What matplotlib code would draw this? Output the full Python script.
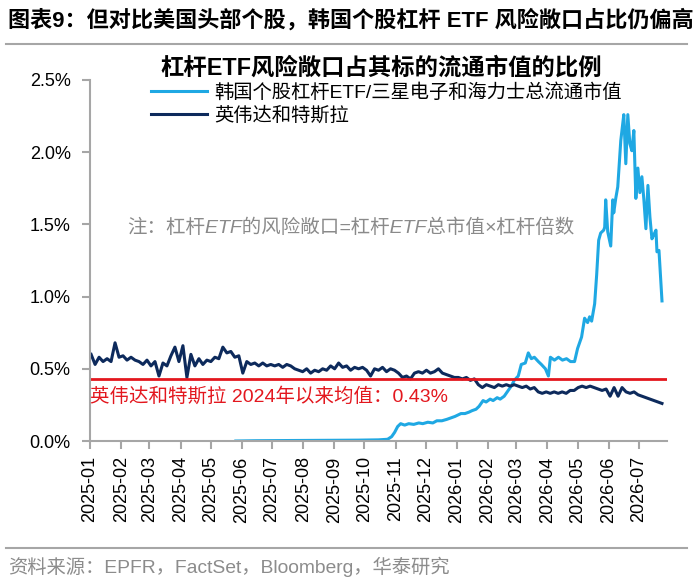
import matplotlib
matplotlib.use('Agg')
import matplotlib.pyplot as plt
import matplotlib.dates as mdates
import pandas as pd

plt.rcParams['font.family'] = ['Liberation Sans', 'Noto Sans CJK SC', 'DejaVu Sans']
plt.rcParams['axes.unicode_minus'] = False

# 英伟达和特斯拉 (每4天读一个点, 单位: %)
nvda_tsla_values = [
    0.60, 0.53, 0.58, 0.55, 0.57, 0.55, 0.68, 0.58, 0.59, 0.56,
    0.58, 0.56, 0.55, 0.53, 0.56, 0.52, 0.55, 0.45, 0.54, 0.52,
    0.59, 0.65, 0.55, 0.66, 0.44, 0.60, 0.52, 0.57, 0.53, 0.56,
    0.55, 0.58, 0.57, 0.65, 0.61, 0.62, 0.58, 0.59, 0.47, 0.55,
    0.53, 0.54, 0.52, 0.54, 0.52, 0.53, 0.52, 0.53, 0.51, 0.53,
    0.52, 0.50, 0.49, 0.48, 0.50, 0.47, 0.49, 0.48, 0.50, 0.49,
    0.52, 0.50, 0.54, 0.51, 0.52, 0.49, 0.51, 0.50, 0.51, 0.49,
    0.45, 0.50, 0.49, 0.51, 0.48, 0.50, 0.49, 0.47, 0.44, 0.45,
    0.43, 0.47, 0.48, 0.47, 0.49, 0.47, 0.48, 0.50, 0.47, 0.46,
    0.45, 0.44, 0.44, 0.43, 0.44, 0.42, 0.43, 0.39, 0.37, 0.39,
    0.38, 0.37, 0.39, 0.38, 0.39, 0.38, 0.39, 0.38, 0.37, 0.38,
    0.36, 0.37, 0.34, 0.33, 0.34, 0.33, 0.34, 0.33, 0.34, 0.33,
    0.35, 0.35, 0.37, 0.38, 0.37, 0.38, 0.37, 0.36, 0.35, 0.36,
    0.31, 0.37, 0.31, 0.37, 0.34, 0.33, 0.34, 0.32, 0.31, 0.30,
    0.29, 0.28, 0.27, 0.26,
]
nvda_tsla_dates = pd.date_range('2025-01-02', '2026-07-24', periods=len(nvda_tsla_values))

# 韩国个股杠杆ETF/三星电子和海力士总流通市值 (单位: %)
korea_dates = pd.to_datetime([
    '2025-05-26', '2025-06-15', '2025-07-10', '2025-08-05', '2025-09-01',
    '2025-09-25', '2025-10-15', '2025-10-24', '2025-10-28', '2025-10-31',
    '2025-11-03', '2025-11-06', '2025-11-10', '2025-11-14', '2025-11-19',
    '2025-11-24', '2025-11-28', '2025-12-03', '2025-12-08', '2025-12-12',
    '2025-12-17', '2025-12-22', '2025-12-26', '2025-12-30', '2026-01-05',
    '2026-01-09', '2026-01-13', '2026-01-16', '2026-01-20', '2026-01-23',
    '2026-01-27', '2026-01-30', '2026-02-03', '2026-02-06', '2026-02-10',
    '2026-02-13', '2026-02-17', '2026-02-20', '2026-02-24', '2026-02-27',
    '2026-03-03', '2026-03-06', '2026-03-10', '2026-03-13', '2026-03-16',
    '2026-03-19', '2026-03-23', '2026-03-26', '2026-03-30', '2026-04-02',
    '2026-04-04', '2026-04-08', '2026-04-12', '2026-04-16', '2026-04-20',
    '2026-04-24', '2026-04-28', '2026-05-01', '2026-05-05', '2026-05-08',
    '2026-05-11', '2026-05-13', '2026-05-15', '2026-05-18', '2026-05-20',
    '2026-05-22', '2026-05-24', '2026-05-27', '2026-05-28', '2026-05-29',
    '2026-05-31', '2026-06-03', '2026-06-05', '2026-06-06', '2026-06-08',
    '2026-06-10', '2026-06-13', '2026-06-15', '2026-06-16', '2026-06-18',
    '2026-06-20', '2026-06-22', '2026-06-24', '2026-06-26', '2026-06-28',
    '2026-06-30', '2026-07-02', '2026-07-04', '2026-07-06', '2026-07-08',
    '2026-07-10', '2026-07-12', '2026-07-14', '2026-07-16', '2026-07-18',
    '2026-07-19', '2026-07-21', '2026-07-24',
])
korea_values = [
    0.000, 0.002, 0.003, 0.004, 0.005,
    0.006, 0.008, 0.012, 0.03, 0.06,
    0.10, 0.12, 0.11, 0.12, 0.115,
    0.125, 0.12, 0.13, 0.125, 0.14,
    0.14, 0.15, 0.16, 0.17, 0.19,
    0.19, 0.20, 0.21, 0.22, 0.24,
    0.28, 0.27, 0.29, 0.28, 0.30,
    0.29, 0.31, 0.34, 0.38, 0.42,
    0.45, 0.53, 0.54, 0.61, 0.57,
    0.58, 0.55, 0.53, 0.50, 0.45,
    0.58, 0.56, 0.58, 0.56, 0.57,
    0.55, 0.55, 0.64, 0.72, 0.85,
    0.82, 0.86, 0.83, 0.95, 1.15,
    1.39, 1.44, 1.46, 1.48, 1.67,
    1.45, 1.35, 1.67, 1.58, 1.68,
    1.76, 2.08, 2.20, 2.26, 1.92,
    2.26, 2.06, 2.01, 2.15, 1.68,
    1.89, 1.72, 1.83, 1.67, 1.47,
    1.77, 1.55, 1.40, 1.43, 1.46,
    1.31, 1.32, 0.97,
]

avg_since_2024 = 0.43
month_ticks = pd.date_range('2025-01-01', '2026-07-01', freq='MS')

light_blue = '#1fa8e3'
navy = '#0d2a5c'
red = '#e3171e'
grey = '#a6a6a6'

fig = plt.figure(figsize=(6.93, 5.88), dpi=100)
ax = fig.add_axes([0.130, 0.250, 0.8325, 0.614])

ax.plot(korea_dates, korea_values, color=light_blue, lw=2.2,
        label='韩国个股杠杆ETF/三星电子和海力士总流通市值')
ax.plot(nvda_tsla_dates, nvda_tsla_values, color=navy, lw=2.2, label='英伟达和特斯拉')
ax.axhline(avg_since_2024, color=red, lw=2.0)

ax.text(pd.Timestamp('2025-01-01'), 0.31, '英伟达和特斯拉 2024年以来均值：0.43%',
        color=red, fontsize=14, va='center', ha='left')
ax.text(0.452, 0.59, '注：杠杆ETF的风险敞口=杠杆ETF总市值×杠杆倍数',
        transform=ax.transAxes, color='#8a8a8a', fontsize=14, style='italic',
        ha='center', va='center')

ax.set_xlim(pd.Timestamp('2025-01-01'), pd.Timestamp('2026-07-29'))
ax.set_ylim(0, 2.5)
ax.set_yticks([0, 0.5, 1.0, 1.5, 2.0, 2.5])
ax.set_yticklabels([f'{v:.1f}%' for v in [0, 0.5, 1.0, 1.5, 2.0, 2.5]])
ax.set_xticks(month_ticks)
ax.xaxis.set_major_formatter(mdates.DateFormatter('%Y-%m'))
for lab in ax.get_xticklabels():
    lab.set_rotation(90)

for s in ['top', 'right']:
    ax.spines[s].set_visible(False)
for s in ['left', 'bottom']:
    ax.spines[s].set_color(grey)
    ax.spines[s].set_linewidth(1.5)
ax.tick_params(axis='both', colors=grey, labelcolor='black', labelsize=13,
               length=6, width=1.5)
ax.tick_params(axis='y', pad=8)
ax.tick_params(axis='x', pad=5)

ax.legend(loc='upper left', bbox_to_anchor=(0.105, 0.99), frameon=False,
          fontsize=13.9, handlelength=2.9, handletextpad=0.4, labelspacing=0.2,
          borderpad=0, borderaxespad=0)

# 标题、分隔线、来源
fig.text(0.012, 0.965, '图表9：但对比美国头部个股，韩国个股杠杆 ETF 风险敞口占比仍偏高',
         fontsize=15.9, fontweight='bold', va='center', ha='left')
fig.add_artist(plt.Line2D([0.008, 0.992], [0.925, 0.925], color=grey, lw=1.5))
fig.text(0.550, 0.884, '杠杆ETF风险敞口占其标的流通市值的比例',
         fontsize=16.8, fontweight='bold', va='center', ha='center')
fig.add_artist(plt.Line2D([0.008, 0.992], [0.068, 0.068], color=grey, lw=1.5))
fig.text(0.012, 0.036, '资料来源：EPFR，FactSet，Bloomberg，华泰研究',
         fontsize=13.9, color='#8c8c8c', va='center', ha='left')

fig.savefig('out.png', dpi=100, facecolor='white')
